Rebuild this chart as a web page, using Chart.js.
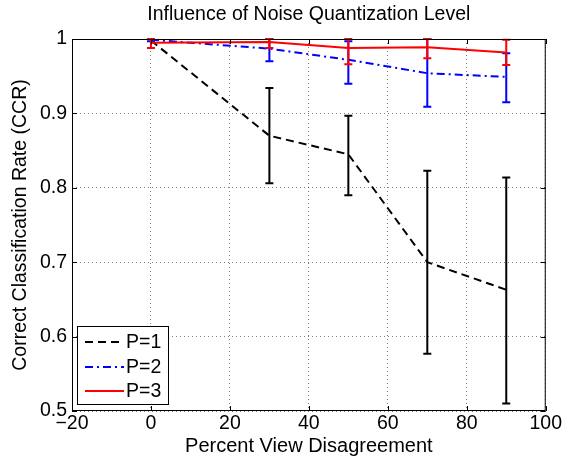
<!DOCTYPE html>
<html lang="en">
<head>
    <meta charset="UTF-8">
    <title>Influence of Noise Quantization Level</title>
    <script src="https://cdn.jsdelivr.net/npm/chart.js"></script>
    <style>
        html, body { margin: 0; padding: 0; background: #fff; }
        #wrap { width: 563px; height: 459px; }
    </style>
</head>
<body>
    <div id="wrap"><canvas id="ccrChart" width="563" height="459"></canvas></div>
    <script>
        // percent view disagreement
        const views = [0, 30, 50, 70, 90];

        // P=1
        const p1 = [0.998, 0.870, 0.845, 0.700, 0.663];
        const p1Lo = [0.998, 0.806, 0.790, 0.577, 0.510];
        const p1Hi = [0.998, 0.934, 0.897, 0.823, 0.814];

        // P=2
        const p2 = [0.999, 0.987, 0.972, 0.954, 0.949];
        const p2Lo = [0.997, 0.970, 0.940, 0.909, 0.915];
        const p2Hi = [1.000, 1.000, 0.997, 1.000, 0.981];

        // P=3
        const p3 = [0.995, 0.996, 0.988, 0.989, 0.982];
        const p3Lo = [0.988, 0.988, 0.966, 0.974, 0.965];
        const p3Hi = [1.000, 1.000, 1.000, 1.000, 0.999];

        const xTicks = [-20, 0, 20, 40, 60, 80, 100];
        const yTicks = [0.5, 0.6, 0.7, 0.8, 0.9, 1];

        const FONT = '"Liberation Sans", Arial, Helvetica, sans-serif';

        const toPoints = (ys) => views.map((x, i) => ({ x: x, y: ys[i] }));

        // error bars, drawn right after their own line
        const errorBars = {
            id: 'errorBars',
            afterDatasetDraw(chart, args) {
                const ds = chart.data.datasets[args.index];
                if (!ds.lo) return;
                const ctx = chart.ctx;
                const xs = chart.scales.x, ys = chart.scales.y;
                ctx.save();
                ctx.strokeStyle = ds.borderColor;
                ctx.lineWidth = 2;
                ctx.setLineDash([]);
                views.forEach((v, i) => {
                    if (ds.lo[i] === ds.hi[i]) return;
                    const px = xs.getPixelForValue(v);
                    const yl = ys.getPixelForValue(ds.lo[i]);
                    const yh = ys.getPixelForValue(ds.hi[i]);
                    ctx.beginPath();
                    ctx.moveTo(px, yl); ctx.lineTo(px, yh);
                    ctx.moveTo(px - 4, yl); ctx.lineTo(px + 4, yl);
                    ctx.moveTo(px - 4, yh); ctx.lineTo(px + 4, yh);
                    ctx.stroke();
                });
                ctx.restore();
            }
        };

        // box, inward ticks, texts, legend
        const frame = {
            id: 'frame',
            afterDraw(chart) {
                const ctx = chart.ctx;
                const a = chart.chartArea;
                const xs = chart.scales.x, ys = chart.scales.y;
                ctx.save();
                ctx.strokeStyle = '#000';
                ctx.lineWidth = 1;
                ctx.setLineDash([]);
                ctx.strokeRect(a.left + 0.5, a.top + 0.5, a.right - a.left - 1, a.bottom - a.top - 1);
                ctx.beginPath();
                xTicks.forEach(v => {
                    const px = Math.round(xs.getPixelForValue(v)) + 0.5;
                    ctx.moveTo(px, a.bottom); ctx.lineTo(px, a.bottom - 5);
                    ctx.moveTo(px, a.top); ctx.lineTo(px, a.top + 5);
                });
                yTicks.forEach(v => {
                    const py = Math.round(ys.getPixelForValue(v)) + 0.5;
                    ctx.moveTo(a.left, py); ctx.lineTo(a.left + 5, py);
                    ctx.moveTo(a.right, py); ctx.lineTo(a.right - 5, py);
                });
                ctx.stroke();

                ctx.fillStyle = '#000';
                ctx.textAlign = 'center';
                ctx.textBaseline = 'middle';
                ctx.font = '19.5px ' + FONT;
                ctx.fillText('Influence of Noise Quantization Level', (a.left + a.right) / 2, 15);
                ctx.font = '20px ' + FONT;
                ctx.fillText('Percent View Disagreement', (a.left + a.right) / 2, 446);
                ctx.save();
                ctx.translate(21, (a.top + a.bottom) / 2);
                ctx.rotate(-Math.PI / 2);
                ctx.font = '19.5px ' + FONT;
                ctx.fillText('Correct Classification Rate (CCR)', 0, 0);
                ctx.restore();

                // legend
                const lx = 77, ly = 326, lw = 91, lh = 78;
                ctx.fillStyle = '#fff';
                ctx.fillRect(lx, ly, lw, lh);
                ctx.strokeRect(lx + 0.5, ly + 0.5, lw, lh);
                const rows = [342, 367, 391];
                ctx.font = '19.5px ' + FONT;
                chart.data.datasets.forEach((ds, i) => {
                    ctx.beginPath();
                    ctx.strokeStyle = ds.borderColor;
                    ctx.lineWidth = 2;
                    ctx.setLineDash(ds.borderDash || []);
                    ctx.moveTo(85, rows[i]); ctx.lineTo(124, rows[i]);
                    ctx.stroke();
                    ctx.setLineDash([]);
                    ctx.fillStyle = '#000';
                    ctx.textAlign = 'left';
                    ctx.fillText(ds.label, 126, rows[i] + 1);
                });
                ctx.restore();
            }
        };

        const ctx = document.getElementById('ccrChart').getContext('2d');

        new Chart(ctx, {
            type: 'line',
            data: {
                datasets: [
                    { label: 'P=1', data: toPoints(p1), lo: p1Lo, hi: p1Hi, borderColor: '#000000', borderDash: [8, 5], order: 3 },
                    { label: 'P=2', data: toPoints(p2), lo: p2Lo, hi: p2Hi, borderColor: '#0000ff', borderDash: [8, 4, 2, 4], order: 2 },
                    { label: 'P=3', data: toPoints(p3), lo: p3Lo, hi: p3Hi, borderColor: '#ff0000', order: 1 }
                ]
            },
            options: {
                responsive: false,
                animation: false,
                layout: { padding: { left: 0, right: 16, top: 39, bottom: 0 } },
                elements: {
                    line: { borderWidth: 2, tension: 0, fill: false },
                    point: { radius: 0, hoverRadius: 0 }
                },
                plugins: {
                    legend: { display: false },
                    tooltip: { enabled: false },
                    title: { display: false }
                },
                scales: {
                    x: {
                        type: 'linear',
                        min: -20,
                        max: 100,
                        afterBuildTicks: s => { s.ticks = xTicks.map(v => ({ value: v })); },
                        afterFit: s => { s.height = 48; },
                        grid: { color: 'rgba(0,0,0,0.5)', lineWidth: 1, drawTicks: false },
                        border: { display: false, dash: [1, 3] },
                        ticks: {
                            padding: 1,
                            color: '#000',
                            font: { family: FONT, size: 19.5 },
                            maxRotation: 0,
                            callback: v => v < 0 ? '\u2212' + Math.abs(v) : String(v)
                        }
                    },
                    y: {
                        type: 'linear',
                        min: 0.5,
                        max: 1,
                        afterBuildTicks: s => { s.ticks = yTicks.map(v => ({ value: v })); },
                        afterFit: s => { s.width = 72; },
                        grid: { color: 'rgba(0,0,0,0.5)', lineWidth: 1, drawTicks: false },
                        border: { display: false, dash: [1, 3] },
                        ticks: {
                            padding: 5,
                            color: '#000',
                            font: { family: FONT, size: 19.5 },
                            callback: v => String(+Number(v).toFixed(1))
                        }
                    }
                }
            },
            plugins: [errorBars, frame]
        });
    </script>
</body>
</html>
